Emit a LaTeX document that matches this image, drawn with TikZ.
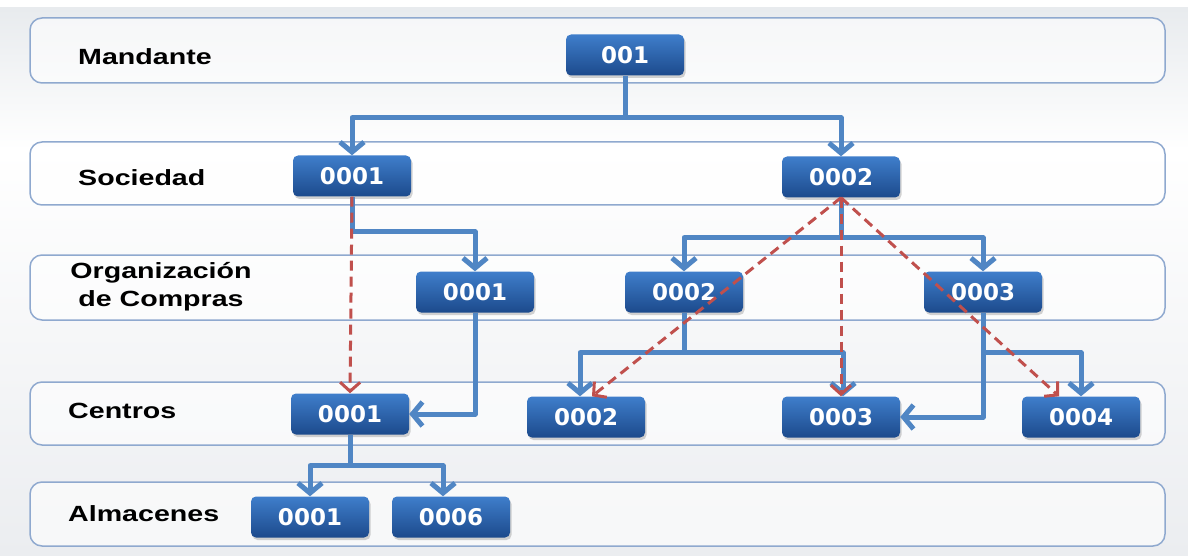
\documentclass[tikz,border=0pt]{standalone}
\usepackage{fontspec}
\setmainfont{Liberation Sans}
\newfontfamily\lblfont{Liberation Sans}[FakeStretch=1.3]
\newfontfamily\boxfont{DejaVu Sans}
\usetikzlibrary{arrows.meta,shadows}
\definecolor{bandc}{HTML}{8FA9CF}
\definecolor{connc}{HTML}{5086C4}
\definecolor{boxtop}{HTML}{3F7ECB}
\definecolor{boxbot}{HTML}{1C4A8C}
\definecolor{redc}{HTML}{C0504D}
\definecolor{bgtop}{HTML}{E8EBEE}
\definecolor{bgbot}{HTML}{EBEDF0}
\tikzset{
  band/.style={draw=bandc, line width=1.5pt, rounded corners=12pt, fill=white, fill opacity=0.6,
    minimum width=1135pt, inner sep=0pt},
  lbl/.style={anchor=west, text=black, font=\lblfont\bfseries\fontsize{22}{25}\selectfont, inner sep=0pt},
  ubox/.style={rounded corners=5pt, top color=boxtop, bottom color=boxbot, minimum width=118pt,
    minimum height=41pt, inner sep=0pt, text=white, font=\boxfont\bfseries\fontsize{23}{23}\selectfont,
    drop shadow={shadow xshift=1.5pt, shadow yshift=-2.5pt, opacity=0.35}},
  wire/.style={draw=connc, line width=5pt, line join=round},
  conn/.style={wire, -{Straight Barb[length=10pt,width=24pt]}},
  reddash/.style={draw=redc, line width=3pt, dash pattern=on 10pt off 6pt,
    -{Straight Barb[length=9pt,width=20pt]}}
}
\begin{document}
\begin{tikzpicture}[x=1pt,y=-1pt]
\useasboundingbox (0,0) rectangle (1188,556);
\fill[white] (0,0) rectangle (1188,556);
\shade[top color=bgtop, bottom color=white] (0,8) rectangle (1188,150);
\shade[top color=white, bottom color=bgbot] (0,150) rectangle (1188,556);
% bands
\node[band, minimum height=65pt] (bM) at (597.5,50.5) {};
\node[band, minimum height=63pt] (bS) at (597.5,173.5) {};
\node[band, minimum height=65pt] (bO) at (597.5,287.5) {};
\node[band, minimum height=63pt] (bC) at (597.5,413.5) {};
\node[band, minimum height=64pt] (bA) at (597.5,514) {};
% labels
\node[lbl] (tM) at (78,57) {Mandante};
\node[lbl] (tS) at (78,178) {Sociedad};
\node[lbl, anchor=center, align=center, font=\lblfont\bfseries\fontsize{22}{28}\selectfont] (tO) at (161,287) {Organización\\de Compras};
\node[lbl] (tC) at (68,411) {Centros};
\node[lbl] (tA) at (68,514) {Almacenes};
% boxes
\node[ubox] (m1) at (625,55) {001};
\node[ubox] (s1) at (352,176) {0001};
\node[ubox] (s2) at (841,177) {0002};
\node[ubox] (o1) at (475,292) {0001};
\node[ubox] (o2) at (684,292) {0002};
\node[ubox] (o3) at (983,292) {0003};
\node[ubox] (c1) at (350,414) {0001};
\node[ubox] (c2) at (586,417) {0002};
\node[ubox] (c3) at (841,417) {0003};
\node[ubox] (c4) at (1081,417) {0004};
\node[ubox] (a1) at (310,517) {0001};
\node[ubox] (a6) at (451,517) {0006};
% blue connectors
\draw[conn] (m1.south) -- ++(0,42) -| (s1.north);
\draw[conn] (m1.south) -- ++(0,42) -| (s2.north);
\draw[conn] (s1.south) -- ++(0,35) -| (o1.north);
\draw[conn] (o1.south) |- (c1.east);
\draw[conn] (s2.south) -- ++(0,40) -| (o2.north);
\draw[conn] (s2.south) -- ++(0,40) -| (o3.north);
\draw[conn] (o2.south) -- ++(0,40) -| ([xshift=-6pt]c2.north);
\draw[conn] (o2.south) -- ++(0,40) -| ([xshift=2pt]c3.north);
\draw[conn] (o3.south) |- (c3.east);
\draw[conn] (o3.south) -- ++(0,40) -| (c4.north);
\draw[conn] (c1.south) -- ++(0,31) -| (a1.north);
\draw[conn] (c1.south) -- ++(0,31) -| ([xshift=-8pt]a6.north);
% red dashed connectors
\draw[reddash] (s1.south) -- (c1.north);
\draw[reddash] (s2.south) -- ([xshift=6pt]c2.north);
\draw[reddash] (s2.south) -- (c3.north);
\draw[reddash] (s2.south) -- ([xshift=-22pt]c4.north);
\end{tikzpicture}
\end{document}
